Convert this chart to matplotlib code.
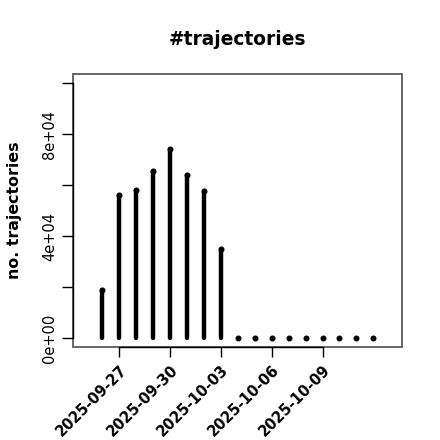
import numpy as np
import pandas as pd
import matplotlib
matplotlib.use('Agg')
import matplotlib.pyplot as plt
import matplotlib.dates as mdates
from matplotlib.patches import Rectangle

# daily counts
dates = pd.date_range('2025-09-26', '2025-10-12', freq='D')
counts = [18900, 56200, 58200, 65600, 74100, 64000, 57800, 34900,
          0, 0, 0, 0, 0, 0, 0, 0, 0]
tick_dates = pd.to_datetime(['2025-09-27', '2025-09-30', '2025-10-03',
                             '2025-10-06', '2025-10-09'])
y_ticks = [0, 20000, 40000, 60000, 80000, 100000]
y_labels = ['0e+00', '', '4e+04', '', '8e+04', '']

fig = plt.figure(figsize=(4.4, 4.4), dpi=100)
ax = fig.add_axes([0.167, 0.2114, 0.747, 0.6206])

x = mdates.date2num(dates)
ax.vlines(x, 0, counts, color='black', linewidth=3.2, capstyle='round')
ax.plot(x, counts, 'o', color='black', markersize=3.3)

ax.set_xlim(x[0] - 1.7, x[-1] + 1.7)
ax.set_ylim(-3400, 103700)

# box in gray, R-style axis lines in black
for s in ax.spines.values():
    s.set_visible(False)
ax.add_patch(Rectangle((0, 0), 1, 1, transform=ax.transAxes, fill=False,
                       edgecolor='#666666', linewidth=1.4, clip_on=False))
ax.spines['left'].set_visible(True)
ax.spines['left'].set_bounds(0, 100000)
ax.spines['bottom'].set_visible(True)
xt = mdates.date2num(tick_dates)
ax.spines['bottom'].set_bounds(xt[0], xt[-1])
for s in ('left', 'bottom'):
    ax.spines[s].set_color('black')
    ax.spines[s].set_linewidth(1.0)

ax.set_yticks(y_ticks)
ax.set_yticklabels(y_labels, rotation=90, va='center', fontsize=10.5)
ax.set_xticks(xt)
ax.set_xticklabels([d.strftime('%Y-%m-%d') for d in tick_dates], rotation=45,
                   ha='right', va='top', rotation_mode='anchor',
                   fontsize=10.5, fontweight='bold')
ax.tick_params(axis='y', length=8, width=1, pad=4)
ax.tick_params(axis='x', length=7, width=1, pad=4)

ax.set_title('#trajectories', fontsize=13.4, fontweight='bold', pad=21)
ax.set_ylabel('no. trajectories', fontsize=11.4, fontweight='bold', labelpad=14)

fig.savefig('out.png', dpi=100)
